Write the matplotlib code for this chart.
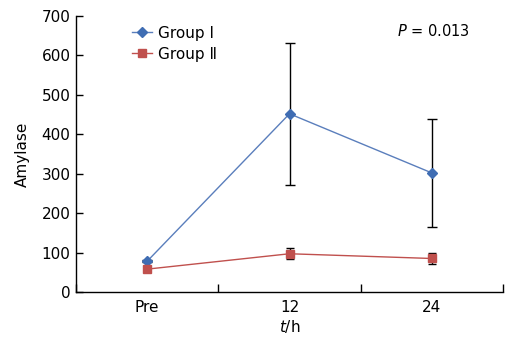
import matplotlib
matplotlib.use("Agg")
import matplotlib.pyplot as plt

categories = ["Pre", "12", "24"]
group1 = [78, 452, 302]
group1_err = [3, 180, 137]
group2 = [58, 97, 85]
group2_err = [3, 14, 14]

BLUE = "#3F6DB3"
BLUE_LINE = "#5A7EBC"
RED = "#C0504D"

fig = plt.figure(figsize=(5.29, 3.46), dpi=100)
ax = fig.add_axes([76 / 529, 1 - 292 / 346, 427 / 529, 276 / 346])

x = list(range(len(categories)))

ax.errorbar(x, group1, yerr=group1_err, fmt="none", ecolor="black",
            elinewidth=1.0, capsize=3.5, capthick=1.0, zorder=2)
ax.errorbar(x, group2, yerr=group2_err, fmt="none", ecolor="black",
            elinewidth=1.0, capsize=3.0, capthick=1.0, zorder=2)
ax.plot(x, group1, color=BLUE_LINE, linewidth=1.0, marker="D", markersize=5.5,
        markerfacecolor=BLUE, markeredgecolor=BLUE,
        label="Group Ⅰ", zorder=3)
ax.plot(x, group2, color=RED, linewidth=1.0, marker="s", markersize=5.2,
        markerfacecolor=RED, markeredgecolor=RED,
        label="Group Ⅱ", zorder=3)

ax.set_xlim(-0.5, 2.5)
ax.set_ylim(0, 700)
ax.set_yticks(range(0, 701, 100))
ax.set_xticks([-0.5, 0.5, 1.5, 2.5])
ax.set_xticklabels([])
ax.set_xticks(x, minor=True)
ax.set_xticklabels(categories, minor=True)
ax.tick_params(axis="x", which="major", direction="in", length=6, width=1)
ax.tick_params(axis="x", which="minor", length=0, pad=6, labelsize=11)
ax.tick_params(axis="y", direction="in", length=5, width=1, labelsize=11, pad=4)

for s in ("top", "right"):
    ax.spines[s].set_visible(False)
for s in ("left", "bottom"):
    ax.spines[s].set_linewidth(1.0)

ax.set_ylabel("Amylase", fontsize=11, labelpad=8)
ax.set_xlabel("$t$/h", fontsize=11, labelpad=2)

ax.legend(loc="upper left", bbox_to_anchor=(0.1, 1.015), frameon=False,
          fontsize=11, handlelength=1.3, handletextpad=0.4, labelspacing=0.4)

ax.text(0.752, 0.947, "$P$ = 0.013", transform=ax.transAxes, fontsize=10.5,
        ha="left", va="center")

fig.savefig("out.png", dpi=100, facecolor="white")
